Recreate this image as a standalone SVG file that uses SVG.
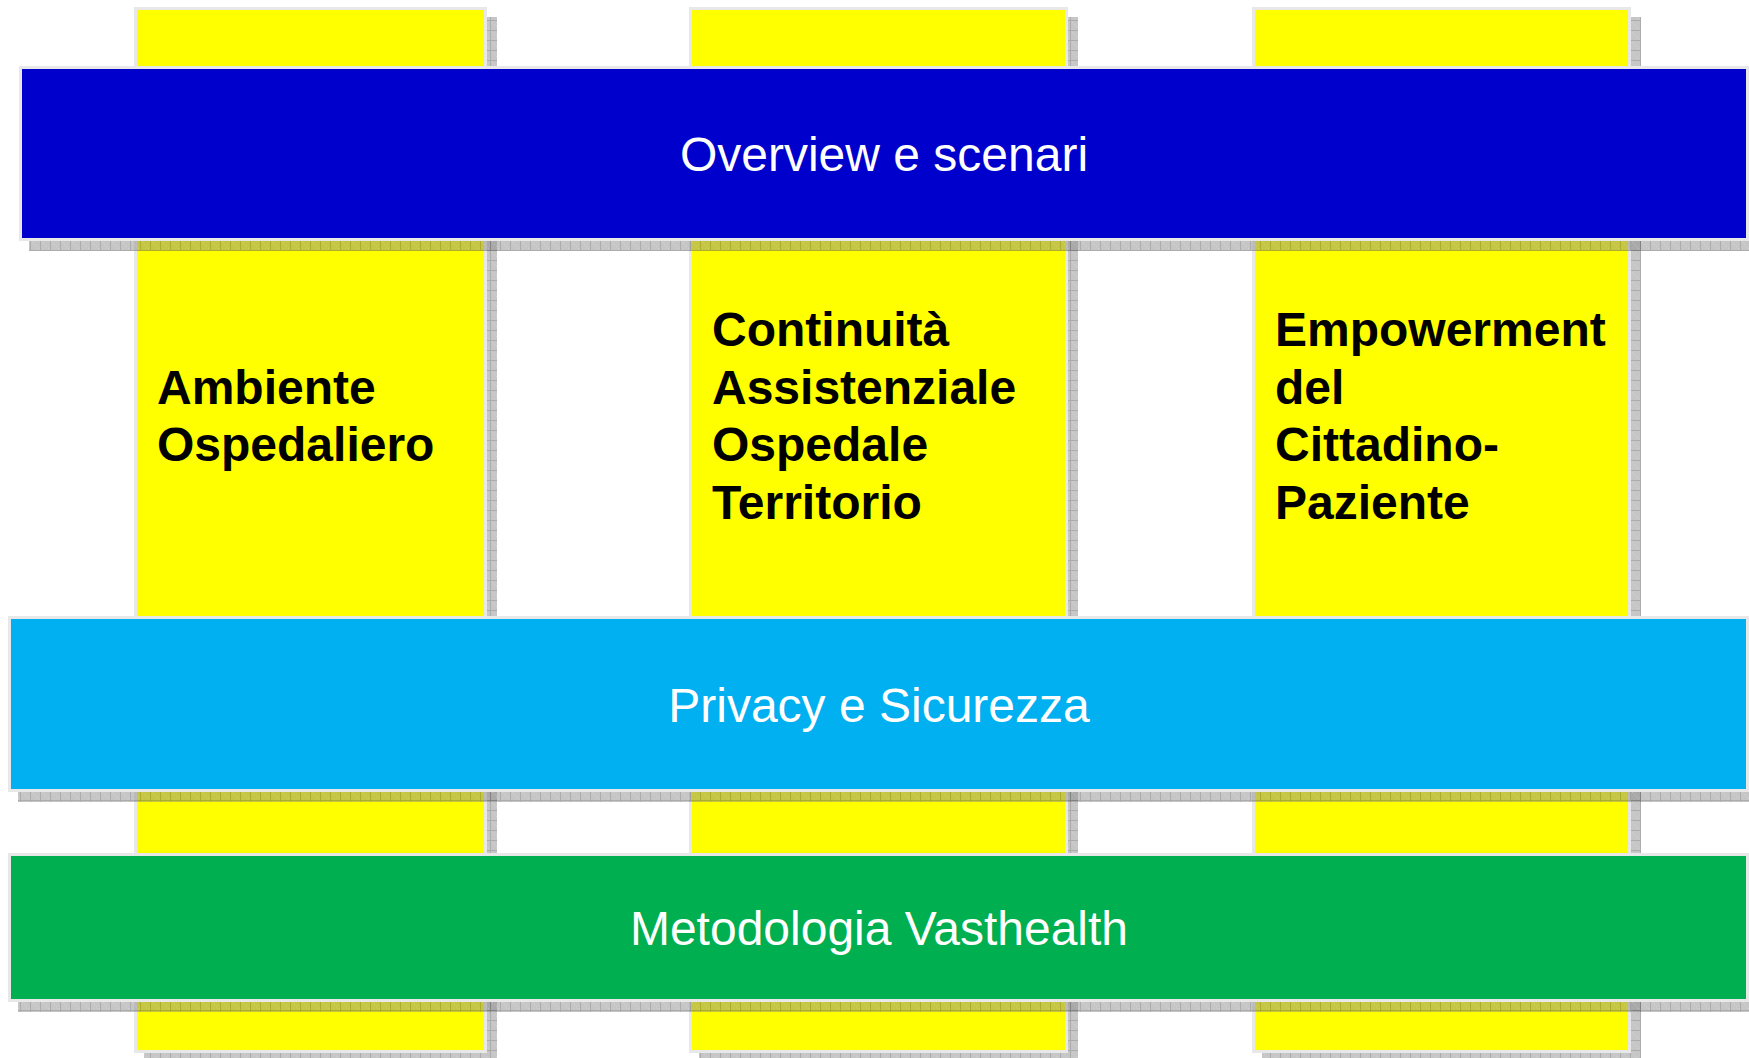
<svg xmlns="http://www.w3.org/2000/svg" width="1749" height="1058" viewBox="0 0 1749 1058">
<style>
.col{fill:#FFFF00;stroke:#E8E8E8;stroke-width:3}
.band{stroke:#E8E8E8;stroke-width:3}
.shadow{fill:url(#hatch);opacity:0.5}
.bold{font-family:"Liberation Sans",Arial,sans-serif;font-weight:bold;font-size:48px;fill:#000}
.title{font-family:"Liberation Sans",Arial,sans-serif;font-size:48px;fill:#FFFFFF;text-anchor:middle}
</style>
<defs>
<pattern id="hatch" patternUnits="userSpaceOnUse" width="10" height="10">
<rect width="10" height="10" fill="#8C8C8C"/>
<rect x="0" y="0" width="1" height="1" fill="#A8A8A8"/>
<rect x="2" y="2" width="1" height="1" fill="#A8A8A8"/>
<rect x="4" y="4" width="1" height="1" fill="#A8A8A8"/>
<rect x="6" y="6" width="1" height="1" fill="#A8A8A8"/>
<rect x="8" y="8" width="1" height="1" fill="#A8A8A8"/>
<path d="M0 0.5H10M0.5 0V10" stroke="#5A5A5A" stroke-width="1"/>
</pattern>
</defs>
<rect width="1749" height="1058" fill="#FFFFFF"/>
<g id="col-ambiente">
<rect class="shadow" x="144" y="17" width="353" height="1046"/>
<rect class="col" x="135.5" y="8.5" width="350" height="1043"/>
<text class="bold" x="157" y="403.5">Ambiente</text>
<text class="bold" x="157" y="461">Ospedaliero</text>
</g>
<g id="col-continuita">
<rect class="shadow" x="699" y="17" width="379" height="1046"/>
<rect class="col" x="690.5" y="8.5" width="376" height="1043"/>
<text class="bold" x="712" y="346">Continuità</text>
<text class="bold" x="712" y="403.5">Assistenziale</text>
<text class="bold" x="712" y="461">Ospedale</text>
<text class="bold" x="712" y="518.5">Territorio</text>
</g>
<g id="col-empowerment">
<rect class="shadow" x="1262" y="17" width="379" height="1046"/>
<rect class="col" x="1253.5" y="8.5" width="376" height="1043"/>
<text class="bold" x="1275" y="346">Empowerment</text>
<text class="bold" x="1275" y="403.5">del</text>
<text class="bold" x="1275" y="461">Cittadino-</text>
<text class="bold" x="1275" y="518.5">Paziente</text>
</g>
<g id="band-overview">
<rect class="shadow" x="29" y="76" width="1730" height="175"/>
<rect class="band" x="20.5" y="67.5" width="1727" height="172" fill="#0000CC"/>
<text class="title" x="884" y="171">Overview e scenari</text>
</g>
<g id="band-privacy">
<rect class="shadow" x="18" y="626" width="1741" height="176"/>
<rect class="band" x="9.5" y="617.5" width="1738" height="173" fill="#00B0F0"/>
<text class="title" x="879" y="722">Privacy e Sicurezza</text>
</g>
<g id="band-metodologia">
<rect class="shadow" x="18" y="863" width="1741" height="149"/>
<rect class="band" x="9.5" y="854.5" width="1738" height="146" fill="#00AF50"/>
<text class="title" x="879" y="945">Metodologia Vasthealth</text>
</g>
<g id="connectors"/>
</svg>
